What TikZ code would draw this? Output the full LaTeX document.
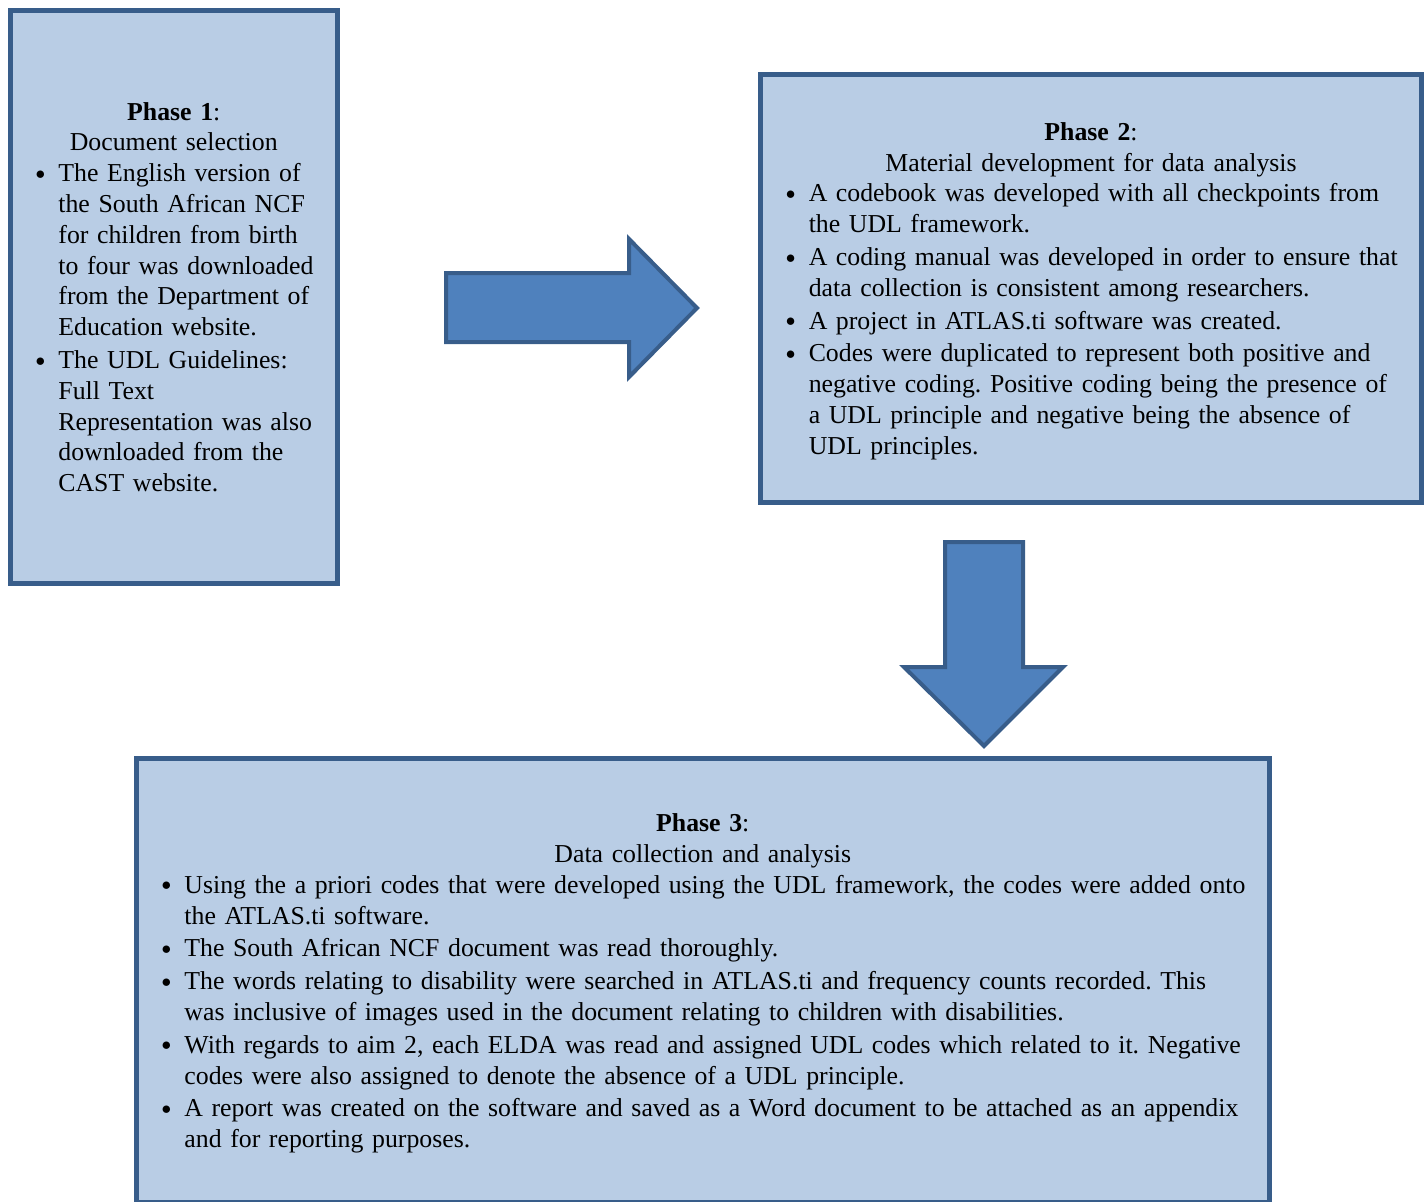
\documentclass[tikz,border=0pt]{standalone}
\usepackage{fontspec}
\setmainfont{Liberation Serif}
\usepackage{graphicx}
\usepackage{tikz}
\usetikzlibrary{positioning}
\definecolor{boxfill}{HTML}{B9CDE5}
\definecolor{boxline}{HTML}{385D8A}
\definecolor{arrowfill}{HTML}{4F81BD}
\frenchspacing
\newcommand{\pbul}{\makebox[12.2pt][l]{\hspace*{0.8pt}\raisebox{1.2pt}{\scalebox{0.8}{$\bullet$}}}}
\newcommand{\phasehead}[2]{\rule{0pt}{14pt}\textbf{#1}:\\#2\par\raggedright\noindent}

\begin{document}
\begin{tikzpicture}[
    x=0.5pt, y=-0.5pt,
    phase/.style={draw=boxline, fill=boxfill, line width=2.5pt, rectangle,
                  align=center, inner xsep=10pt, inner ysep=4pt,
                  font=\fontsize{12.9pt}{15.4pt}\selectfont},
    bigarrow/.style={draw=boxline, fill=arrowfill, line width=2pt, line join=miter},
  ]
  % same canvas as the reference page
  \useasboundingbox (0,0) rectangle (1427,1201);
  % == the three phases
  \node[phase, text width=143.25pt, minimum height=286.5pt] (phase1) at (173.75,296.5) {%
    \phasehead{Phase 1}{Document selection}%
    \begin{tabular}[t]{@{}l@{}l@{}}
      \pbul & The English version of\\
            & the South African NCF\\
            & for children from birth\\
            & to four was downloaded\\
            & from the Department of\\
            & Education website.\\[1pt]
      \pbul & The UDL Guidelines:\\
            & Full Text\\
            & Representation was also\\
            & downloaded from the\\
            & CAST website.
    \end{tabular}};
  \node[phase, text width=310.5pt, minimum height=214pt] (phase2) at (1091,288) {%
    \phasehead{Phase 2}{Material development for data analysis}%
    \begin{tabular}[t]{@{}l@{}l@{}}
      \pbul & A codebook was developed with all checkpoints from\\
            & the UDL framework.\\[1pt]
      \pbul & A coding manual was developed in order to ensure that\\
            & data collection is consistent among researchers.\\[1pt]
      \pbul & A project in ATLAS.ti software was created.\\[1pt]
      \pbul & Codes were duplicated to represent both positive and\\
            & negative coding. Positive coding being the presence of\\
            & a UDL principle and negative being the absence of\\
            & UDL principles.
    \end{tabular}};
  \node[phase, text width=546.25pt, minimum height=221.75pt] (phase3) at (702.75,980.25) {%
    \phasehead{Phase 3}{Data collection and analysis}%
    \begin{tabular}[t]{@{}l@{}l@{}}
      \pbul & Using the a priori codes that were developed using the UDL framework, the codes were added onto\\
            & the ATLAS.ti software.\\[1pt]
      \pbul & The South African NCF document was read thoroughly.\\[1pt]
      \pbul & The words relating to disability were searched in ATLAS.ti and frequency counts recorded. This\\
            & was inclusive of images used in the document relating to children with disabilities.\\[1pt]
      \pbul & With regards to aim 2, each ELDA was read and assigned UDL codes which related to it. Negative\\
            & codes were also assigned to denote the absence of a UDL principle.\\[1pt]
      \pbul & A report was created on the software and saved as a Word document to be attached as an appendix\\
            & and for reporting purposes.
    \end{tabular}};
  % == block arrows between the phases
  \draw[bigarrow] (446,273) -- (629,273) -- (629,239) -- (697,308)
    -- (629,377) -- (629,342) -- (446,342) -- cycle;
  \draw[bigarrow] (945,542) -- (1023,542) -- (1023,667) -- (1063,667)
    -- (984,746) -- (904,667) -- (945,667) -- cycle;
\end{tikzpicture}
\end{document}
